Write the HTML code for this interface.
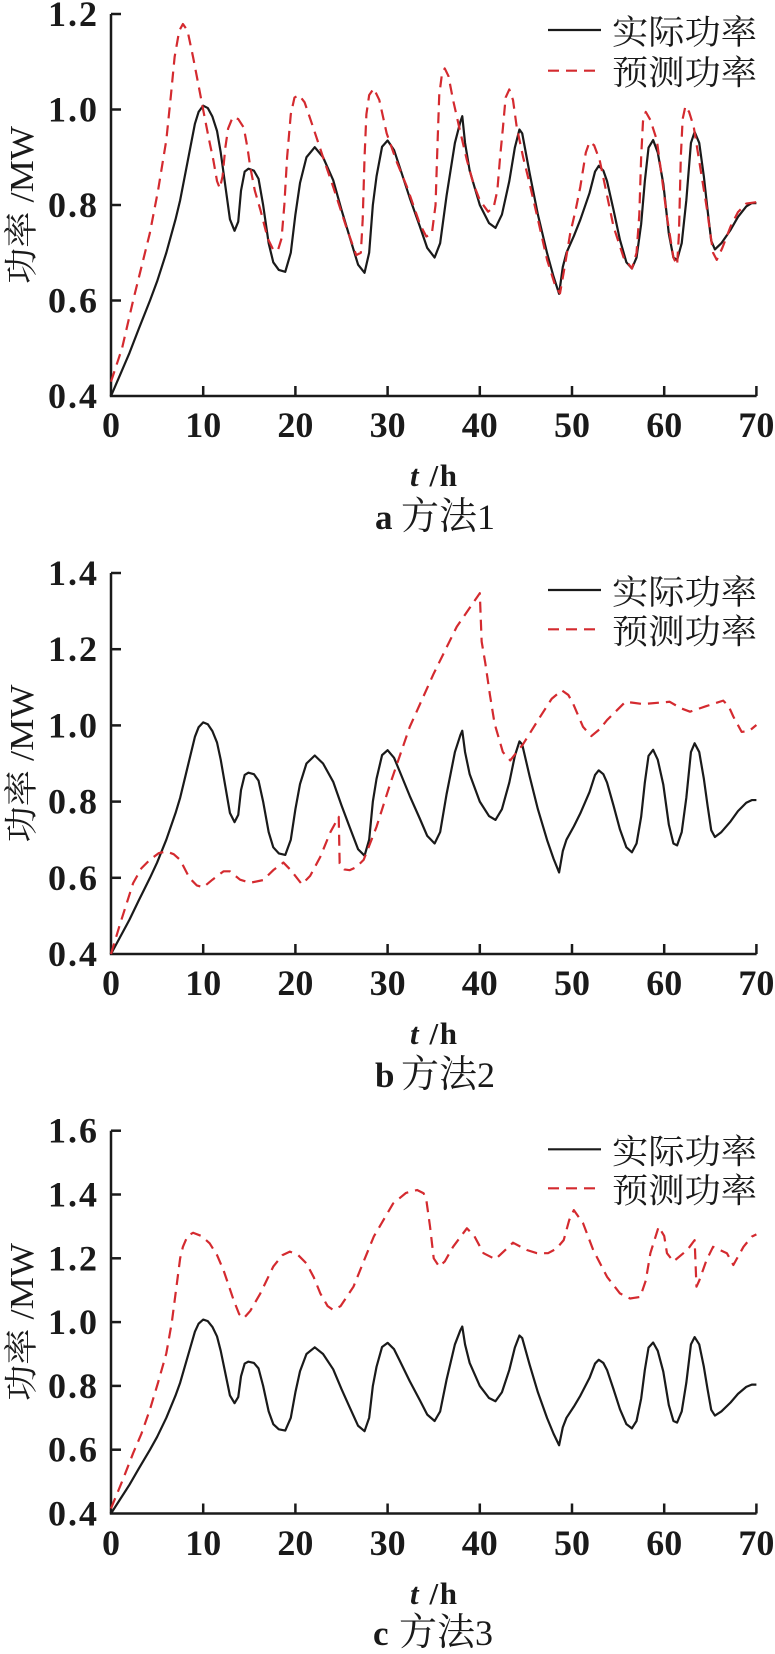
<!DOCTYPE html>
<html>
<head>
<meta charset="utf-8">
<style>
  html,body{margin:0;padding:0;background:#fff;}
  svg{display:block;}
  .tk{font-family:"Liberation Serif","Noto Serif CJK SC",serif;font-weight:bold;font-size:36px;fill:#1a1a1a;}
  .yt{letter-spacing:2px;}
  .cj{font-family:"Liberation Serif","Noto Serif CJK SC",serif;font-size:34px;fill:#1a1a1a;}
  .th{font-family:"Liberation Serif",serif;font-weight:bold;font-size:31px;fill:#1a1a1a;}
  .ax{stroke:#1a1a1a;stroke-width:2.5;fill:none;}
  .bl{stroke:#1a1a1a;stroke-width:2.2;fill:none;vector-effect:non-scaling-stroke;stroke-linejoin:round;}
  .rd{stroke:#d42a2f;stroke-width:2.2;fill:none;vector-effect:non-scaling-stroke;stroke-dasharray:11 7;stroke-linejoin:round;}
</style>
</head>
<body>
<svg width="775" height="1654" viewBox="0 0 775 1654" xmlns="http://www.w3.org/2000/svg">

<!-- ================= Panel a ================= -->
<g>
  <line class="ax" x1="111" y1="14" x2="111" y2="396"/>
  <line class="ax" x1="109.8" y1="396" x2="756.6" y2="396"/>
  <g class="ax">
    <line x1="111" y1="14" x2="121" y2="14"/>
    <line x1="111" y1="109.5" x2="121" y2="109.5"/>
    <line x1="111" y1="205" x2="121" y2="205"/>
    <line x1="111" y1="300.5" x2="121" y2="300.5"/>
    <line x1="203.2" y1="396" x2="203.2" y2="386"/>
    <line x1="295.4" y1="396" x2="295.4" y2="386"/>
    <line x1="387.6" y1="396" x2="387.6" y2="386"/>
    <line x1="479.8" y1="396" x2="479.8" y2="386"/>
    <line x1="572" y1="396" x2="572" y2="386"/>
    <line x1="664.2" y1="396" x2="664.2" y2="386"/>
    <line x1="756.4" y1="396" x2="756.4" y2="386"/>
  </g>
  <g class="tk yt" text-anchor="end">
    <text x="99" y="26">1.2</text>
    <text x="99" y="121.5">1.0</text>
    <text x="99" y="217">0.8</text>
    <text x="99" y="312.5">0.6</text>
    <text x="99" y="408">0.4</text>
  </g>
  <g class="tk" text-anchor="middle">
    <text x="111" y="437">0</text>
    <text x="203.2" y="437">10</text>
    <text x="295.4" y="437">20</text>
    <text x="387.6" y="437">30</text>
    <text x="479.8" y="437">40</text>
    <text x="572" y="437">50</text>
    <text x="664.2" y="437">60</text>
    <text x="756.4" y="437">70</text>
  </g>
  <text class="th" x="410" y="486" textLength="47" lengthAdjust="spacing"><tspan font-style="italic">t</tspan> /h</text>
  <text class="cj" x="375" y="529"><tspan font-weight="bold" font-size="35">a</tspan><tspan x="401" font-size="38">方法</tspan><tspan font-size="36">1</tspan></text>
  <text class="cj" transform="translate(33,205) rotate(-90)" text-anchor="middle" textLength="158" lengthAdjust="spacingAndGlyphs">功率 /MW</text>

  <g transform="matrix(9.22 0 0 -477.5 111 587)">
    <polyline class="bl" points="0,0.4 1,0.445 2,0.49 3,0.54 4.23,0.6 5,0.64 6,0.7 7,0.77 7.5,0.81 8.1,0.87 8.6,0.92 9.1,0.97 9.5,0.995 10,1.008 10.5,1.003 11,0.985 11.5,0.955 11.9,0.91 12.4,0.84 12.9,0.77 13.4,0.746 13.8,0.765 14.1,0.83 14.5,0.87 14.9,0.876 15.5,0.872 16,0.855 16.5,0.8 17.1,0.72 17.6,0.68 18.2,0.664 18.9,0.66 19.5,0.7 20,0.78 20.5,0.846 21.2,0.9 22.1,0.921 23,0.9 24.1,0.852 25,0.79 25.9,0.732 26.8,0.675 27.5,0.658 28,0.7 28.4,0.8 28.8,0.86 29.4,0.922 30,0.935 30.7,0.915 31.3,0.88 32.4,0.815 33.5,0.755 34.3,0.71 35.1,0.69 35.7,0.72 36.4,0.82 37.3,0.93 37.9,0.975 38.1,0.986 38.4,0.93 38.9,0.872 40,0.8 41,0.762 41.7,0.752 42.4,0.78 43.2,0.85 43.8,0.92 44.3,0.958 44.6,0.95 45.4,0.867 46.3,0.78 47.3,0.699 48,0.65 48.6,0.614 49,0.67 49.4,0.7 50.2,0.735 50.9,0.769 51.9,0.825 52.5,0.87 52.9,0.882 53.4,0.872 53.8,0.85 54.5,0.79 55.2,0.727 55.9,0.68 56.5,0.667 57,0.69 57.5,0.76 57.9,0.85 58.3,0.92 58.8,0.936 59.3,0.91 59.9,0.845 60.5,0.74 61,0.69 61.4,0.685 61.9,0.72 62.4,0.81 62.9,0.93 63.3,0.953 63.8,0.93 64.3,0.86 64.7,0.79 65.1,0.725 65.5,0.707 66.2,0.72 67.2,0.748 68,0.775 68.9,0.797 69.5,0.804 70,0.804"/>
    <polyline class="rd" points="0,0.43 1.2,0.5 2.4,0.6 3.3,0.67 4.2,0.74 5.1,0.83 6,0.936 6.5,1.03 6.9,1.11 7.4,1.165 7.8,1.179 8.3,1.165 8.9,1.11 9.5,1.05 10,0.999 10.6,0.94 11.1,0.894 11.5,0.85 11.8,0.835 12.1,0.86 12.4,0.92 12.7,0.96 13.2,0.984 13.8,0.98 14.4,0.962 14.8,0.92 15.1,0.88 15.6,0.83 16.2,0.79 17,0.73 17.6,0.706 18.1,0.705 18.5,0.73 18.8,0.8 19.1,0.9 19.5,0.99 19.9,1.025 20.4,1.03 21,1.015 21.9,0.964 23,0.9 24.1,0.838 25.5,0.755 26.6,0.695 27.1,0.7 27.3,0.77 27.5,0.9 27.7,0.99 28,1.03 28.5,1.044 29.1,1.02 29.9,0.95 31,0.89 32.1,0.838 33.5,0.76 34.2,0.734 34.8,0.74 35.2,0.8 35.4,0.92 35.6,1.03 35.9,1.075 36.2,1.086 36.6,1.07 37.1,1.02 37.8,0.96 38.6,0.894 39.3,0.845 40,0.81 40.9,0.786 41.5,0.795 41.9,0.83 42.2,0.9 42.5,0.96 42.8,1.025 43.2,1.042 43.6,1.02 44,0.964 44.7,0.9 45.4,0.845 46.3,0.77 47.3,0.685 48.2,0.63 48.7,0.615 49.2,0.67 49.8,0.74 50.4,0.79 50.9,0.838 51.5,0.91 51.9,0.932 52.4,0.925 53,0.894 53.8,0.82 54.5,0.755 55.6,0.69 56.5,0.667 57,0.7 57.3,0.78 57.5,0.9 57.7,0.975 58,0.995 58.5,0.978 59.2,0.936 59.8,0.85 60.3,0.775 61,0.69 61.4,0.674 61.6,0.74 61.8,0.9 62,0.98 62.3,1.007 62.7,0.995 63.2,0.964 63.9,0.88 64.6,0.796 65.3,0.7 65.7,0.685 66.3,0.71 67.2,0.755 68,0.785 68.9,0.803 70,0.806"/>
  </g>

  <line x1="548" y1="30" x2="601" y2="30" stroke="#1a1a1a" stroke-width="2.2"/>
  <line x1="548" y1="70.7" x2="601" y2="70.7" stroke="#d42a2f" stroke-width="2.2" stroke-dasharray="11 7"/>
  <text class="cj" x="612" y="44" textLength="145" lengthAdjust="spacingAndGlyphs">实际功率</text>
  <text class="cj" x="612" y="84.5" textLength="145" lengthAdjust="spacingAndGlyphs">预测功率</text>
</g>

<!-- ================= Panel b ================= -->
<g>
  <line class="ax" x1="111" y1="573" x2="111" y2="954"/>
  <line class="ax" x1="109.8" y1="954" x2="756.6" y2="954"/>
  <g class="ax">
    <line x1="111" y1="573" x2="121" y2="573"/>
    <line x1="111" y1="649.2" x2="121" y2="649.2"/>
    <line x1="111" y1="725.4" x2="121" y2="725.4"/>
    <line x1="111" y1="801.6" x2="121" y2="801.6"/>
    <line x1="111" y1="877.8" x2="121" y2="877.8"/>
    <line x1="203.2" y1="954" x2="203.2" y2="944"/>
    <line x1="295.4" y1="954" x2="295.4" y2="944"/>
    <line x1="387.6" y1="954" x2="387.6" y2="944"/>
    <line x1="479.8" y1="954" x2="479.8" y2="944"/>
    <line x1="572" y1="954" x2="572" y2="944"/>
    <line x1="664.2" y1="954" x2="664.2" y2="944"/>
    <line x1="756.4" y1="954" x2="756.4" y2="944"/>
  </g>
  <g class="tk yt" text-anchor="end">
    <text x="99" y="585">1.4</text>
    <text x="99" y="661.2">1.2</text>
    <text x="99" y="737.4">1.0</text>
    <text x="99" y="813.6">0.8</text>
    <text x="99" y="889.8">0.6</text>
    <text x="99" y="966">0.4</text>
  </g>
  <g class="tk" text-anchor="middle">
    <text x="111" y="995">0</text>
    <text x="203.2" y="995">10</text>
    <text x="295.4" y="995">20</text>
    <text x="387.6" y="995">30</text>
    <text x="479.8" y="995">40</text>
    <text x="572" y="995">50</text>
    <text x="664.2" y="995">60</text>
    <text x="756.4" y="995">70</text>
  </g>
  <text class="th" x="410" y="1044" textLength="47" lengthAdjust="spacing"><tspan font-style="italic">t</tspan> /h</text>
  <text class="cj" x="375" y="1087"><tspan font-weight="bold" font-size="35">b</tspan><tspan x="401" font-size="38">方法</tspan><tspan font-size="36">2</tspan></text>
  <text class="cj" transform="translate(33,763.5) rotate(-90)" text-anchor="middle" textLength="158" lengthAdjust="spacingAndGlyphs">功率 /MW</text>

  <g transform="matrix(9.22 0 0 -381 111 1106.4)">
    <polyline class="bl" points="0,0.4 1,0.445 2,0.49 3,0.54 4.23,0.6 5,0.64 6,0.7 7,0.77 7.5,0.81 8.1,0.87 8.6,0.92 9.1,0.97 9.5,0.995 10,1.008 10.5,1.003 11,0.985 11.5,0.955 11.9,0.91 12.4,0.84 12.9,0.77 13.4,0.746 13.8,0.765 14.1,0.83 14.5,0.87 14.9,0.876 15.5,0.872 16,0.855 16.5,0.8 17.1,0.72 17.6,0.68 18.2,0.664 18.9,0.66 19.5,0.7 20,0.78 20.5,0.846 21.2,0.9 22.1,0.921 23,0.9 24.1,0.852 25,0.79 25.9,0.732 26.8,0.675 27.5,0.658 28,0.7 28.4,0.8 28.8,0.86 29.4,0.922 30,0.935 30.7,0.915 31.3,0.88 32.4,0.815 33.5,0.755 34.3,0.71 35.1,0.69 35.7,0.72 36.4,0.82 37.3,0.93 37.9,0.975 38.1,0.986 38.4,0.93 38.9,0.872 40,0.8 41,0.762 41.7,0.752 42.4,0.78 43.2,0.85 43.8,0.92 44.3,0.958 44.6,0.95 45.4,0.867 46.3,0.78 47.3,0.699 48,0.65 48.6,0.614 49,0.67 49.4,0.7 50.2,0.735 50.9,0.769 51.9,0.825 52.5,0.87 52.9,0.882 53.4,0.872 53.8,0.85 54.5,0.79 55.2,0.727 55.9,0.68 56.5,0.667 57,0.69 57.5,0.76 57.9,0.85 58.3,0.92 58.8,0.936 59.3,0.91 59.9,0.845 60.5,0.74 61,0.69 61.4,0.685 61.9,0.72 62.4,0.81 62.9,0.93 63.3,0.953 63.8,0.93 64.3,0.86 64.7,0.79 65.1,0.725 65.5,0.707 66.2,0.72 67.2,0.748 68,0.775 68.9,0.797 69.5,0.804 70,0.804"/>
    <polyline class="rd" points="0,0.4 1,0.48 2.4,0.586 3.3,0.625 4.2,0.647 5.2,0.665 6,0.669 6.8,0.662 7.5,0.647 8.5,0.6 9.3,0.58 10,0.575 11,0.595 12.2,0.617 12.9,0.617 14,0.595 15.1,0.587 16.5,0.594 17.6,0.62 18.7,0.64 19.5,0.62 20.7,0.583 21.6,0.605 22.7,0.655 23.8,0.72 24.7,0.76 24.8,0.638 25.3,0.622 25.9,0.62 26.6,0.628 27.4,0.647 28.1,0.69 28.8,0.734 30.3,0.848 32.4,0.996 35,1.136 37.5,1.259 40,1.347 40.2,1.22 40.6,1.163 41.1,1.08 41.6,1.005 42.5,0.93 43.3,0.908 44.7,0.951 46.5,1.021 47.8,1.07 48.9,1.092 49.6,1.08 50.1,1.058 51.2,0.996 52.1,0.972 53,0.99 53.8,1.014 55.8,1.062 57.7,1.056 60.6,1.062 61.8,1.045 62.8,1.036 64.5,1.05 66.4,1.065 67,1.05 67.5,1.023 68.4,0.983 69.2,0.985 70,1.001"/>
  </g>

  <line x1="548" y1="590" x2="601" y2="590" stroke="#1a1a1a" stroke-width="2.2"/>
  <line x1="548" y1="629.3" x2="601" y2="629.3" stroke="#d42a2f" stroke-width="2.2" stroke-dasharray="11 7"/>
  <text class="cj" x="612" y="604" textLength="145" lengthAdjust="spacingAndGlyphs">实际功率</text>
  <text class="cj" x="612" y="643.3" textLength="145" lengthAdjust="spacingAndGlyphs">预测功率</text>
</g>

<!-- ================= Panel c ================= -->
<g>
  <line class="ax" x1="111" y1="1130.7" x2="111" y2="1513.5"/>
  <line class="ax" x1="109.8" y1="1513.5" x2="756.6" y2="1513.5"/>
  <g class="ax">
    <line x1="111" y1="1130.7" x2="121" y2="1130.7"/>
    <line x1="111" y1="1194.5" x2="121" y2="1194.5"/>
    <line x1="111" y1="1258.3" x2="121" y2="1258.3"/>
    <line x1="111" y1="1322.1" x2="121" y2="1322.1"/>
    <line x1="111" y1="1385.9" x2="121" y2="1385.9"/>
    <line x1="111" y1="1449.7" x2="121" y2="1449.7"/>
    <line x1="203.2" y1="1513.5" x2="203.2" y2="1503.5"/>
    <line x1="295.4" y1="1513.5" x2="295.4" y2="1503.5"/>
    <line x1="387.6" y1="1513.5" x2="387.6" y2="1503.5"/>
    <line x1="479.8" y1="1513.5" x2="479.8" y2="1503.5"/>
    <line x1="572" y1="1513.5" x2="572" y2="1503.5"/>
    <line x1="664.2" y1="1513.5" x2="664.2" y2="1503.5"/>
    <line x1="756.4" y1="1513.5" x2="756.4" y2="1503.5"/>
  </g>
  <g class="tk yt" text-anchor="end">
    <text x="99" y="1142.7">1.6</text>
    <text x="99" y="1206.5">1.4</text>
    <text x="99" y="1270.3">1.2</text>
    <text x="99" y="1334.1">1.0</text>
    <text x="99" y="1397.9">0.8</text>
    <text x="99" y="1461.7">0.6</text>
    <text x="99" y="1525.5">0.4</text>
  </g>
  <g class="tk" text-anchor="middle">
    <text x="111" y="1555">0</text>
    <text x="203.2" y="1555">10</text>
    <text x="295.4" y="1555">20</text>
    <text x="387.6" y="1555">30</text>
    <text x="479.8" y="1555">40</text>
    <text x="572" y="1555">50</text>
    <text x="664.2" y="1555">60</text>
    <text x="756.4" y="1555">70</text>
  </g>
  <text class="th" x="410" y="1604" textLength="47" lengthAdjust="spacing"><tspan font-style="italic">t</tspan> /h</text>
  <text class="cj" x="373" y="1645"><tspan font-weight="bold" font-size="35">c</tspan><tspan x="399" font-size="38">方法</tspan><tspan font-size="36">3</tspan></text>
  <text class="cj" transform="translate(33,1322) rotate(-90)" text-anchor="middle" textLength="158" lengthAdjust="spacingAndGlyphs">功率 /MW</text>

  <g transform="matrix(9.22 0 0 -319 111 1641.1)">
    <polyline class="bl" points="0,0.4 1,0.445 2,0.49 3,0.54 4.23,0.6 5,0.64 6,0.7 7,0.77 7.5,0.81 8.1,0.87 8.6,0.92 9.1,0.97 9.5,0.995 10,1.008 10.5,1.003 11,0.985 11.5,0.955 11.9,0.91 12.4,0.84 12.9,0.77 13.4,0.746 13.8,0.765 14.1,0.83 14.5,0.87 14.9,0.876 15.5,0.872 16,0.855 16.5,0.8 17.1,0.72 17.6,0.68 18.2,0.664 18.9,0.66 19.5,0.7 20,0.78 20.5,0.846 21.2,0.9 22.1,0.921 23,0.9 24.1,0.852 25,0.79 25.9,0.732 26.8,0.675 27.5,0.658 28,0.7 28.4,0.8 28.8,0.86 29.4,0.922 30,0.935 30.7,0.915 31.3,0.88 32.4,0.815 33.5,0.755 34.3,0.71 35.1,0.69 35.7,0.72 36.4,0.82 37.3,0.93 37.9,0.975 38.1,0.986 38.4,0.93 38.9,0.872 40,0.8 41,0.762 41.7,0.752 42.4,0.78 43.2,0.85 43.8,0.92 44.3,0.958 44.6,0.95 45.4,0.867 46.3,0.78 47.3,0.699 48,0.65 48.6,0.614 49,0.67 49.4,0.7 50.2,0.735 50.9,0.769 51.9,0.825 52.5,0.87 52.9,0.882 53.4,0.872 53.8,0.85 54.5,0.79 55.2,0.727 55.9,0.68 56.5,0.667 57,0.69 57.5,0.76 57.9,0.85 58.3,0.92 58.8,0.936 59.3,0.91 59.9,0.845 60.5,0.74 61,0.69 61.4,0.685 61.9,0.72 62.4,0.81 62.9,0.93 63.3,0.953 63.8,0.93 64.3,0.86 64.7,0.79 65.1,0.725 65.5,0.707 66.2,0.72 67.2,0.748 68,0.775 68.9,0.797 69.5,0.804 70,0.804"/>
    <polyline class="rd" points="0,0.416 1.2,0.5 2.4,0.589 3.3,0.65 4.2,0.724 5.1,0.81 6,0.902 6.6,1.0 7.1,1.111 7.5,1.2 7.8,1.236 8.3,1.27 8.9,1.28 9.8,1.27 10.7,1.247 11.5,1.21 12.2,1.163 13.3,1.069 13.9,1.025 14.4,1.012 15.1,1.035 16.2,1.09 17.6,1.174 18.6,1.21 19.4,1.221 20.3,1.21 21.2,1.184 22,1.14 22.7,1.09 23.5,1.05 24.1,1.038 24.9,1.05 26.3,1.111 27.4,1.19 28.5,1.268 30.6,1.372 32,1.405 33.2,1.414 33.9,1.404 34.2,1.383 34.6,1.3 35,1.2 35.6,1.174 36.2,1.19 37.1,1.236 38.6,1.294 39.4,1.27 40.4,1.216 41.7,1.197 43.6,1.249 45.1,1.226 46.2,1.216 47.4,1.216 48.3,1.23 49.1,1.257 49.7,1.32 50.2,1.351 51.2,1.31 52.3,1.226 53.8,1.142 55.2,1.09 56.3,1.074 57.4,1.079 58,1.13 58.5,1.216 59.4,1.299 60,1.27 60.3,1.216 61,1.19 62.5,1.226 63.3,1.257 63.5,1.111 63.8,1.13 64.6,1.195 65.3,1.236 66.8,1.216 67.5,1.179 68.6,1.236 69.5,1.268 70,1.275"/>
  </g>

  <line x1="548" y1="1149.3" x2="601" y2="1149.3" stroke="#1a1a1a" stroke-width="2.2"/>
  <line x1="548" y1="1188.3" x2="601" y2="1188.3" stroke="#d42a2f" stroke-width="2.2" stroke-dasharray="11 7"/>
  <text class="cj" x="612" y="1163.3" textLength="145" lengthAdjust="spacingAndGlyphs">实际功率</text>
  <text class="cj" x="612" y="1202.3" textLength="145" lengthAdjust="spacingAndGlyphs">预测功率</text>
</g>
</svg>
</body>
</html>
